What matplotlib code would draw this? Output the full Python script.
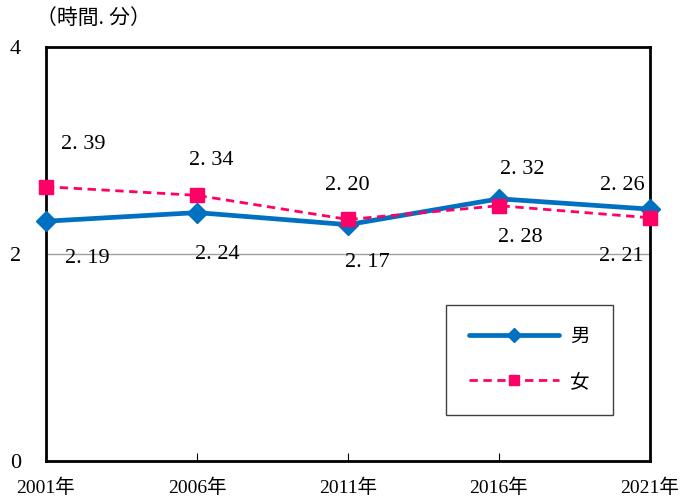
import matplotlib

matplotlib.use("Agg")
import matplotlib.pyplot as plt

plt.rcParams["font.family"] = ["Liberation Serif", "Noto Sans CJK JP"]

years = ["2001年", "2006年", "2011年", "2016年", "2021年"]
# values as hours.minutes
male = [2.19, 2.24, 2.17, 2.32, 2.26]
female = [2.39, 2.34, 2.20, 2.28, 2.21]

# label offsets in pixels relative to the point
male_offsets = [(41, -37), (20, -42), (19, -38), (23, 29), (-28, 24)]
female_offsets = [(37, 42), (14, 35), (-1, 34), (21, -32), (-29, -39)]


def to_hours(v):
    h = int(v)
    m = round((v - h) * 100)
    return h + m / 60


fig = plt.figure(figsize=(6.83, 4.99), dpi=100)
ax = fig.add_axes([0.0673, 0.0762, 0.8844, 0.8296])

x = list(range(len(years)))
male_h = [to_hours(v) for v in male]
female_h = [to_hours(v) for v in female]

ax.axhline(2, color="#a0a0a0", lw=1, zorder=1)
ax.plot(x, male_h, color="#0070C0", lw=3.4, marker="D", ms=10,
        label="男", zorder=3, clip_on=False, solid_capstyle="round")
ax.plot(x, female_h, color="#FF0066", lw=2, ls=(0, (3, 2)), marker="s",
        ms=10, label="女", zorder=4, clip_on=False)

for xi, yi, v, off in zip(x, male_h, male, male_offsets):
    ax.annotate(f"{v:.2f}".replace(".", ". "), xy=(xi, yi), xytext=off,
                textcoords="offset pixels", ha="center", va="center",
                fontsize=16)
for xi, yi, v, off in zip(x, female_h, female, female_offsets):
    ax.annotate(f"{v:.2f}".replace(".", ". "), xy=(xi, yi), xytext=off,
                textcoords="offset pixels", ha="center", va="center",
                fontsize=16)

ax.set_xlim(0, 4)
ax.set_ylim(0, 4)
ax.set_yticks([0, 2, 4])
ax.set_yticklabels(["0", "2", "4"], fontsize=16)
ax.set_xticks(x)
ax.set_xticklabels(years, fontsize=14)
ax.tick_params(axis="y", length=0, pad=18)
ax.tick_params(axis="x", direction="in", length=6, pad=13)
for s in ax.spines.values():
    s.set_linewidth(2)

fig.text(0.052, 0.962, "（時間. 分）", fontsize=15, ha="left", va="center")

leg = ax.legend(loc="lower right", bbox_to_anchor=(0.939, 0.112),
                handlelength=4.6, fontsize=14, markerscale=0.7,
                fancybox=False, edgecolor="#404040", framealpha=1,
                borderpad=1.2, labelspacing=1.4, handletextpad=0.6,
                borderaxespad=0)
leg.get_frame().set_linewidth(1)

fig.savefig("out.png", dpi=100)
